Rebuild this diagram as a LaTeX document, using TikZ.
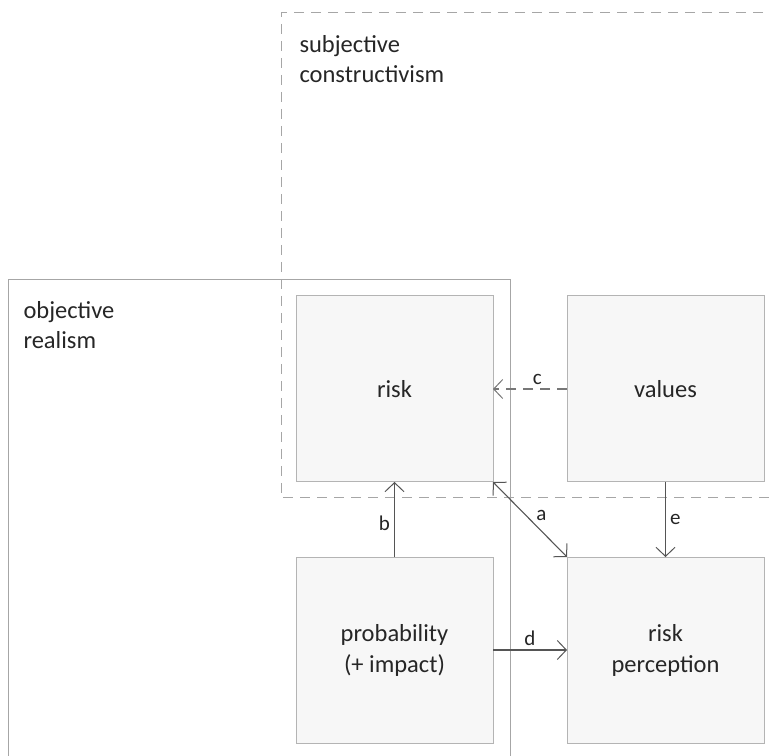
\documentclass[tikz,border=0pt]{standalone}
\usepackage{fontspec}
\setmainfont{Carlito}
\usepackage{xcolor}
\usetikzlibrary{positioning, arrows.meta}

\definecolor{framegray}{HTML}{A6A6A6}
\definecolor{boxgray}{HTML}{B4B4B4}
\definecolor{boxfill}{HTML}{F7F7F7}
\definecolor{arrowgray}{HTML}{555555}
\definecolor{textgray}{HTML}{262626}

\begin{document}
\begin{tikzpicture}[x=1pt, y=1pt,
    box/.style={draw=boxgray, fill=boxfill, line width=1pt, outer sep=0pt,
      minimum width=197pt, minimum height=186pt, align=center,
      text=textgray, font=\fontsize{24.5}{31}\selectfont},
    frametitle/.style={anchor=west, align=left, text=textgray,
      font=\fontsize{24.5}{30}\selectfont},
    tip/.tip={Straight Barb[length=9pt, width=19pt, line width=1pt]},
    link/.style={draw=arrowgray, line width=1.1pt, -tip},
    linklabel/.style={text=textgray, font=\fontsize{21}{23}\selectfont, inner sep=4pt},
    dashpat/.style={dash pattern=on 10pt off 7pt},
    node distance=75pt and 74pt]
        \useasboundingbox (0,0) rectangle (770,755);
        \clip (0,0) rectangle (770,755);

        % Objective realism frame
        \draw[framegray, line width=1pt] (8,-5) -- (8,475) -- (510,475) -- (510,-5);
        \node[frametitle] (objt) at (20,430) {objective\\realism};

        % The four boxes
        \node[box] (risk) at (394.5,366) {risk};
        \node[box, right=of risk] (values) {values};
        \node[box, below=of risk] (prob) {probability\\(+ impact)};
        \node[box, below=of values] (perc) {risk\\perception};

        % Subjective constructivism frame
        \draw[framegray, line width=1pt, dashpat] (780,742) -- (281,742) -- (281,257) -- (780,257);
        \node[frametitle] (subt) at (296,696) {subjective\\constructivism};

        % Links
        \draw[link, draw=arrowgray!80, dashpat] (values) -- node[linklabel, above, pos=.4] {c} (risk);
        \draw[link] (prob) -- node[linklabel, left, pos=.45] {b} (risk);
        \draw[link, tip-tip] (risk.south east) -- node[linklabel, above right, pos=.55, inner sep=2pt] {a} (perc.north west);
        \draw[link] (prob) -- node[linklabel, above] {d} (perc);
        \draw[link] (values) -- node[linklabel, right, pos=.5] {e} (perc);
\end{tikzpicture}
\end{document}
